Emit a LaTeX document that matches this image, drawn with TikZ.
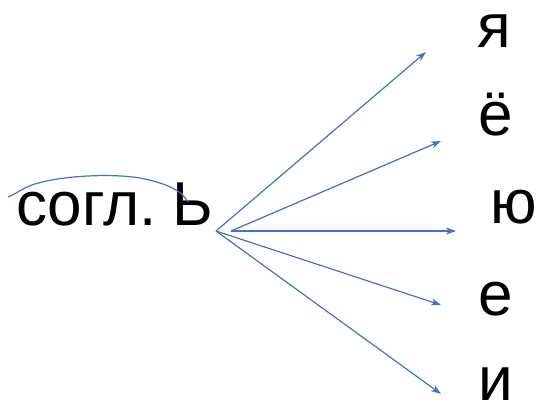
\documentclass[tikz,border=0pt]{standalone}
\usepackage{fontspec}
\setmainfont{Liberation Sans}
\usetikzlibrary{arrows.meta}
\definecolor{flecha}{RGB}{68,114,196}
\tikzset{
  flechita/.style={flecha, line width=1.2pt, -{Stealth[length=10pt,width=7pt,inset=3pt]}},
  letra/.style={anchor=base, inner sep=0pt, font=\fontsize{62}{70}\selectfont}
}
\begin{document}
\begin{tikzpicture}[x=1pt,y=-1pt]
  \useasboundingbox (0,0) rectangle (542,405);
    %——————————————————————————————————————————————
    % Texto de la izquierda
    %——————————————————————————————————————————————
    \node[letra, anchor=base west] (sogl) at (16,225) {согл.\kern-2pt\ Ь};
    % Trazo a mano sobre la palabra
    \draw[flecha, line width=1.2pt] (8,197) .. controls (18,193) and (22,188) .. (35,184)
      .. controls (60,176) and (110,173) .. (140,178)
      .. controls (165,183) and (182,190) .. (188,202);

    %——————————————————————————————————————————————
    % Vocales de la derecha
    %——————————————————————————————————————————————
    \node[letra] (ya) at (494,47)  {я};
    \node[letra] (yo) at (496,135) {ё};
    \node[letra] (yu) at (514,223) {ю};
    \node[letra] (ye) at (496,315) {е};
    \node[letra] (i)  at (496,400) {и};

    %——————————————————————————————————————————————
    % Origen y puntas de las flechas
    %——————————————————————————————————————————————
    \coordinate (o1) at (216,231);
    \coordinate (o2) at (231,231);
    \coordinate (pya) at (426,52);
    \coordinate (pyo) at (441,141);
    \coordinate (pyu) at (456,231);
    \coordinate (pye) at (441,305);
    \coordinate (pi)  at (441,394);

    \draw[flechita] (o1) -- (pya);
    \draw[flechita] (o2) -- (pyo);
    \draw[flechita] (o2) -- (pyu);
    \draw[flechita] (o1) -- (pye);
    \draw[flechita] (o1) -- (pi);
\end{tikzpicture}
\end{document}
